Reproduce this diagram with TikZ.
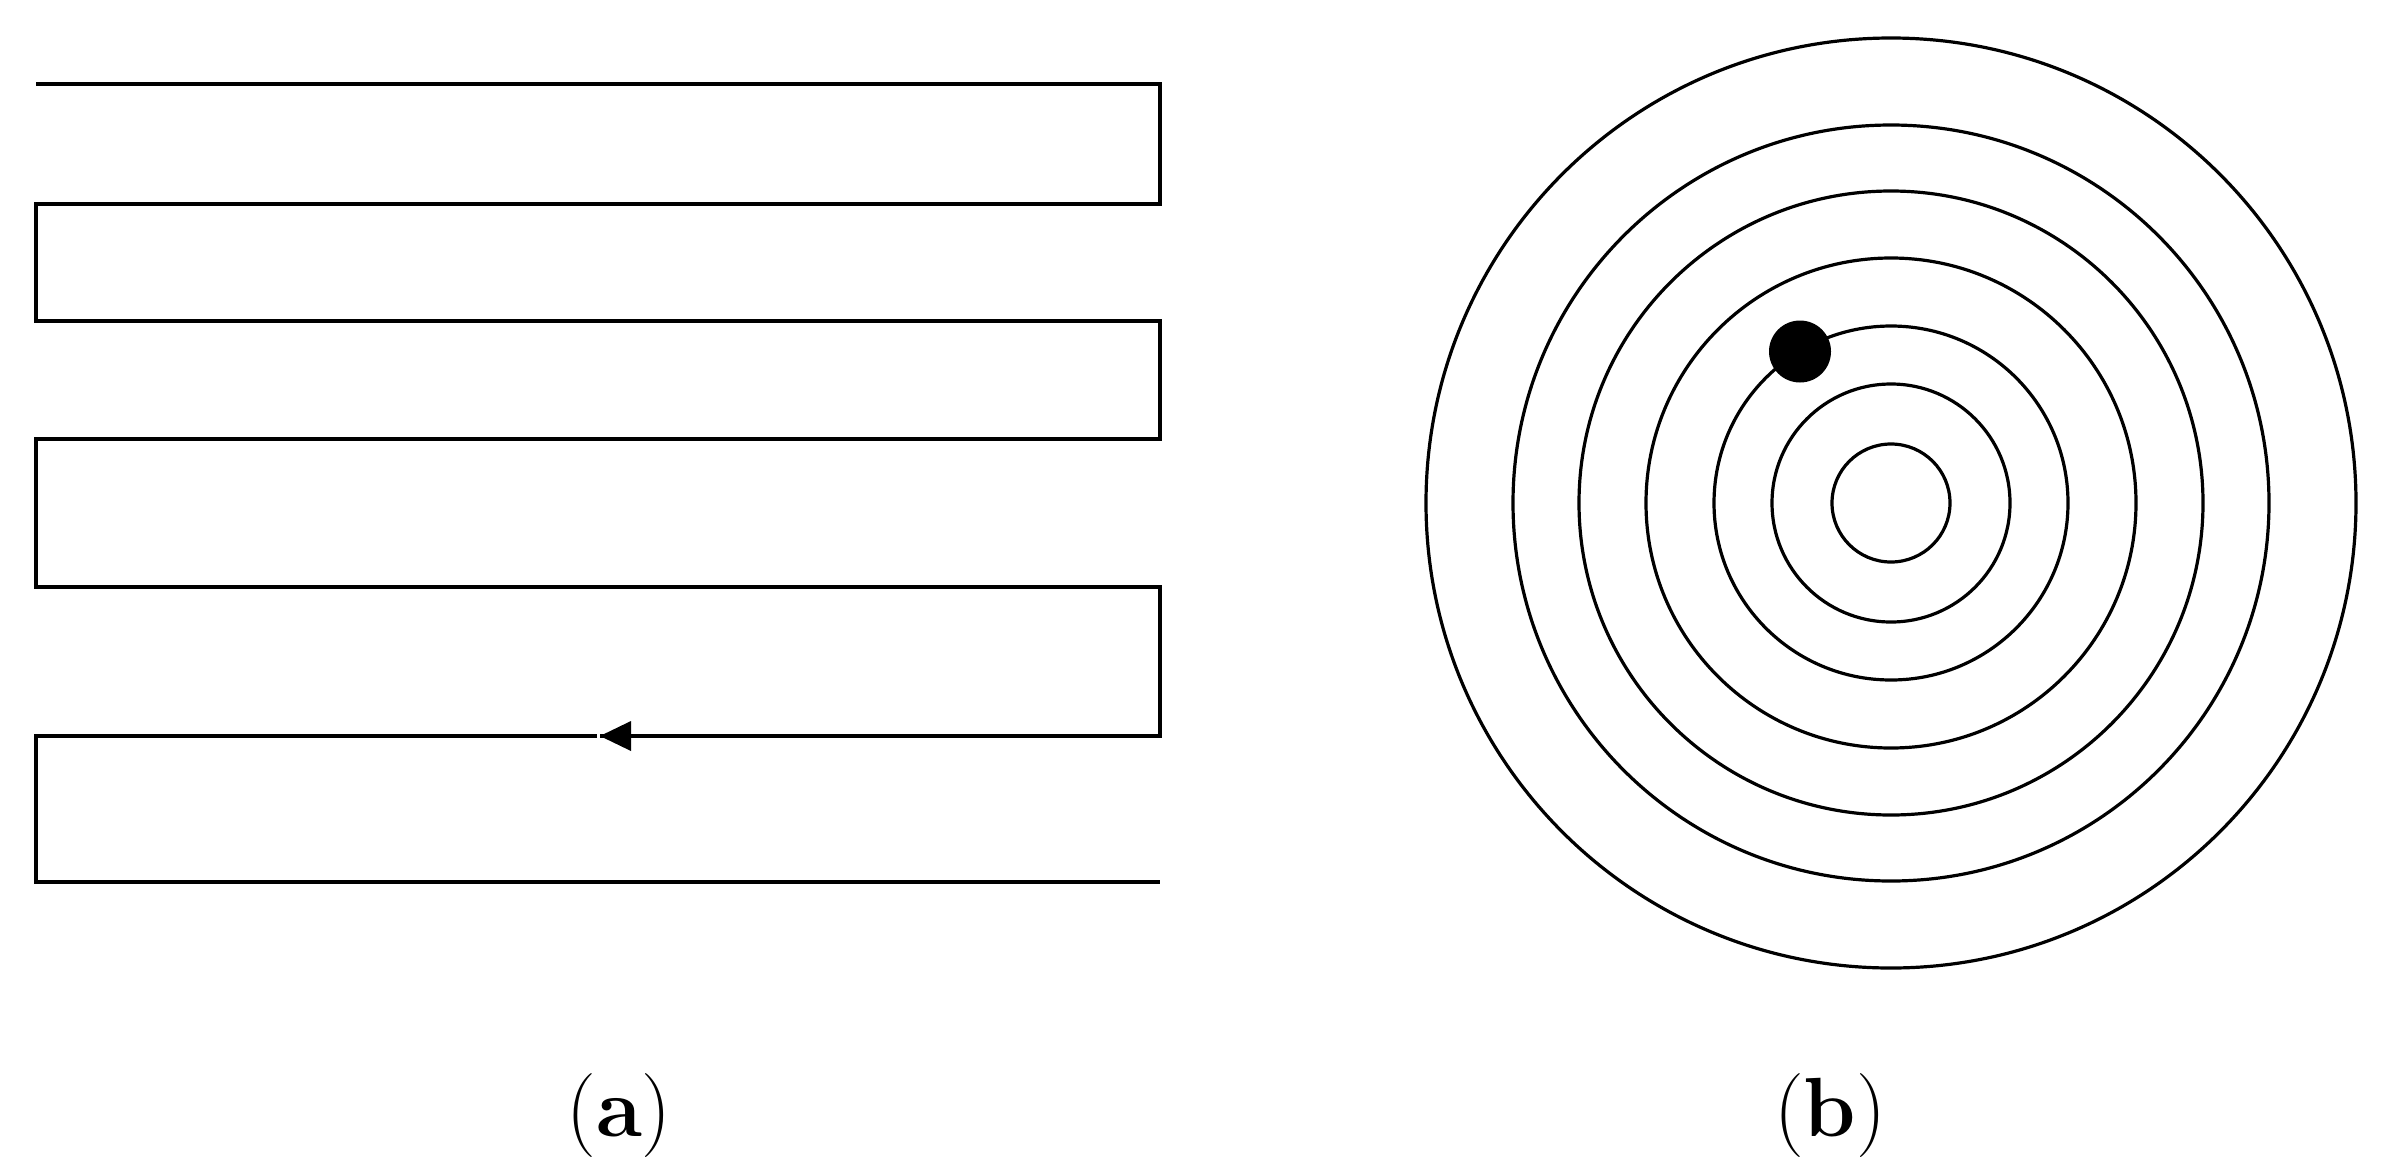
\documentclass[tikz,border=0pt]{standalone}
\usetikzlibrary{arrows.meta}
\begin{document}
\begin{tikzpicture}[x=0.25pt,y=-0.25pt,
  trace/.style={line width=0.85pt, black, line join=miter},
  ring/.style={line width=0.8pt, black},
  tipmark/.style={fill=black},
  lab/.style={font=\fontsize{21}{25}\selectfont, inner sep=0pt, anchor=base}]
\useasboundingbox (0,0) rectangle (2389,1168);
% (a) serpentine scan path
\coordinate (p0) at (36,84);
\coordinate (p1) at (1160,84);
\coordinate (p2) at (1160,204);
\coordinate (p3) at (36,204);
\coordinate (p4) at (36,321);
\coordinate (p5) at (1160,321);
\coordinate (p6) at (1160,439);
\coordinate (p7) at (36,439);
\coordinate (p8) at (36,587);
\coordinate (p9) at (1160,587);
\coordinate (p10) at (1160,736);
\coordinate (tip) at (600,736);
\coordinate (gap) at (597,736);
\coordinate (p11) at (36,736);
\coordinate (p12) at (36,882);
\coordinate (p13) at (1160,882);
\draw[trace] (p0) -- (p1) -- (p2) -- (p3) -- (p4) -- (p5) -- (p6) -- (p7)
  -- (p8) -- (p9) -- (p10) -- (tip);
\draw[trace] (gap) -- (p11) -- (p12) -- (p13);
\fill[tipmark] (tip) -- (631,721) -- (631,751) -- cycle;
% (b) concentric circles
\coordinate (c) at (1891,503);
\foreach \r in {116.25, 94.5, 78, 61.25, 44.25, 29.75, 14.75}
  \draw[ring] (c) circle[radius=\r pt];
\node[circle, fill=black, minimum size=15.5pt, inner sep=0pt] (dot) at (1800,351.5) {};
% labels
\node[lab] (la) at (619,1136) {(\textbf{a})};
\node[lab] (lb) at (1830,1136) {(\textbf{b})};
\end{tikzpicture}
\end{document}
